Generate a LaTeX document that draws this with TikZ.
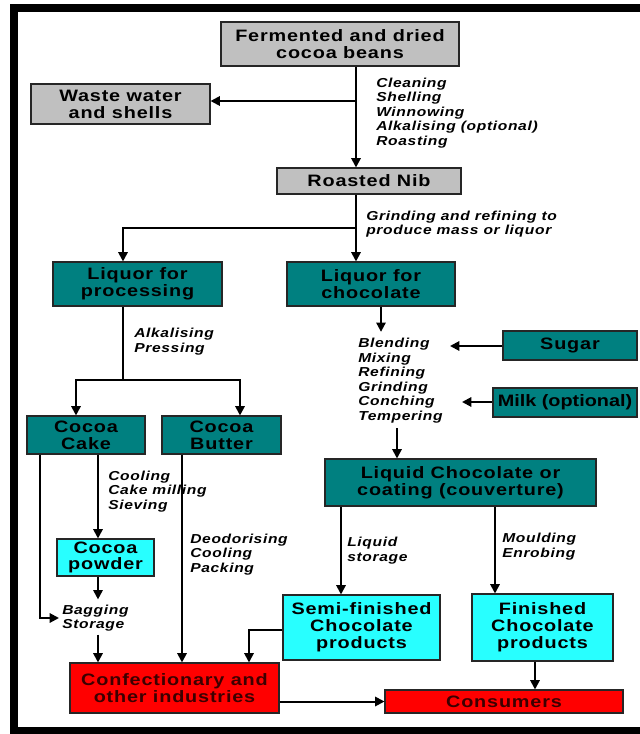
\documentclass[tikz,border=0pt]{standalone}
\usepackage{fontspec}
\setmainfont{Liberation Sans}
\newfontfamily\boxfont{Liberation Sans}[FakeStretch=1.2,LetterSpace=5]
\usetikzlibrary{arrows.meta,calc}

\definecolor{beangray}{RGB}{192,192,192}
\definecolor{liquorteal}{RGB}{0,128,128}
\definecolor{productcyan}{RGB}{40,255,255}
\definecolor{marketred}{RGB}{255,0,0}
\definecolor{darkredtext}{RGB}{60,0,0}

\tikzset{
  box/.style={draw=black!85, line width=0.8pt, inner sep=0pt, align=center,
    font=\boxfont\fontsize{12.4}{12.6}\bfseries\selectfont},
  graybox/.style={box, fill=beangray},
  tealbox/.style={box, fill=liquorteal},
  cyanbox/.style={box, fill=productcyan},
  redbox/.style={box, fill=marketred, text=darkredtext},
  lab/.style={inner sep=0pt, anchor=west, align=left,
    font=\boxfont\fontsize{9.75}{10.9}\bfseries\itshape\selectfont},
  link/.style={line width=1.5pt},
  flow/.style={link, -{Triangle[length=7pt,width=7pt]}},
  frame/.style={line width=5.5pt}
}

\begin{document}
\begin{tikzpicture}[x=0.75pt,y=-0.75pt]
\useasboundingbox (0,0) rectangle (639,734);
\fill[white] (0,0) rectangle (639,734);

% outer frame, open on the right
\draw[frame] (645,8) -- (14,8) -- (14,731) -- (645,731);

% boxes
\node[graybox, minimum width=178.5pt, minimum height=33pt] (ferm) at (340,44) {Fermented and dried\\cocoa beans};
\node[graybox, minimum width=134.25pt, minimum height=30pt] (waste) at (120.5,104) {Waste water\\and shells};
\node[graybox, minimum width=138pt, minimum height=19.5pt] (nib) at (369,181) {Roasted Nib};
\node[tealbox, minimum width=126.75pt, minimum height=33pt] (lproc) at (137.5,284) {Liquor for\\processing};
\node[tealbox, minimum width=126pt, minimum height=33pt] (lchoc) at (371,284) {Liquor for\\chocolate};
\node[tealbox, minimum width=88.5pt, minimum height=28.5pt] (cake) at (86,435) {Cocoa\\Cake};
\node[tealbox, minimum width=89.25pt, minimum height=28.5pt] (butter) at (221.5,435) {Cocoa\\Butter};
\node[cyanbox, minimum width=72.75pt, minimum height=27.75pt] (powder) at (105.5,557.5) {Cocoa\\powder};
\node[tealbox, minimum width=100.5pt, minimum height=21.75pt] (sugar) at (570,345.5) {Sugar};
\node[tealbox, minimum width=108pt, minimum height=21.75pt] (milk) at (565,402.5) {\addfontfeature{LetterSpace=0}Milk (optional)};
\node[tealbox, minimum width=203.25pt, minimum height=35.25pt] (liquid) at (460.5,482.5) {Liquid Chocolate or\\coating (couverture)};
\node[cyanbox, minimum width=117.75pt, minimum height=48.75pt] (semi) at (361.5,627.5) {Semi-finished\\Chocolate\\products};
\node[cyanbox, minimum width=105.75pt, minimum height=50.25pt] (fin) at (542.5,627.5) {Finished\\Chocolate\\products};
\node[redbox, minimum width=156.75pt, minimum height=37.5pt] (conf) at (174.5,688) {Confectionary and\\other industries};
\node[redbox, minimum width=178.5pt, minimum height=17.25pt] (cons) at (504,701.5) {Consumers};

% process step labels
\node[lab] (prep) at (376,113) {Cleaning\\Shelling\\Winnowing\\Alkalising (optional)\\Roasting};
\node[lab] (grind) at (366,224) {Grinding and refining to\\produce mass or liquor};
\node[lab] (press) at (134,341.5) {Alkalising\\Pressing};
\node[lab] (blend) at (358,380.5) {Blending\\Mixing\\Refining\\Grinding\\Conching\\Tempering};
\node[lab] (mill) at (108,491.5) {Cooling\\Cake milling\\Sieving};
\node[lab] (deo) at (190,554.5) {Deodorising\\Cooling\\Packing};
\node[lab] (bag) at (62,618) {Bagging\\Storage};
\node[lab] (store) at (347,550.5) {Liquid\\storage};
\node[lab] (mould) at (502,546.5) {Moulding\\Enrobing};

% bean preparation
\coordinate (spine) at (356,101);
\draw[flow] (ferm.south -| spine) -- (nib.north -| spine);
\draw[flow] (spine) -- (waste.east |- spine);

% nib to the two liquors
\coordinate (split) at (356,228);
\coordinate (procx) at (123,228);
\draw[flow] (nib.south -| split) -- (lchoc.north -| split);
\draw[flow] (split) -- (procx) -- (lproc.north -| procx);

% pressing into cake and butter
\coordinate (fork) at (123,380);
\coordinate (forkL) at (76,380);
\coordinate (forkR) at (240,380);
\draw[link] (lproc.south -| fork) -- (fork);
\draw[flow] (fork) -- (forkL) -- (cake.north -| forkL);
\draw[flow] (fork) -- (forkR) -- (butter.north -| forkR);

% cake branch
\coordinate (cakeL) at (40,618);
\coordinate (cakeM) at (98,0);
\draw[flow] (cake.south -| cakeL) -- (cakeL) -- ($(bag.west)+(-3,0)$);
\draw[flow] (cake.south -| cakeM) -- (powder.north -| cakeM);
\draw[flow] (powder.south -| cakeM) -- ($(bag.north -| cakeM)+(0,-5)$);
\draw[flow] ($(bag.south -| cakeM)+(0,3)$) -- (conf.north -| cakeM);

% butter branch
\coordinate (butx) at (182,0);
\draw[flow] (butter.south -| butx) -- (conf.north -| butx);

% chocolate making
\coordinate (chx) at (381,0);
\coordinate (blx) at (397,0);
\coordinate (sugtip) at (450,346);
\coordinate (milktip) at (462,402);
\draw[flow] (lchoc.south -| chx) -- ($(blend.north -| chx)+(0,-6)$);
\draw[flow] (sugar.west |- sugtip) -- (sugtip);
\draw[flow] (milk.west |- milktip) -- (milktip);
\draw[flow] ($(blend.south -| blx)+(0,5)$) -- (liquid.north -| blx);

% products
\coordinate (semix) at (341,0);
\coordinate (finx) at (495,0);
\coordinate (consx) at (535,0);
\coordinate (semiturn) at (249,630);
\draw[flow] (liquid.south -| semix) -- (semi.north -| semix);
\draw[flow] (liquid.south -| finx) -- (fin.north -| finx);
\draw[flow] (fin.south -| consx) -- (cons.north -| consx);
\draw[flow] (semi.west |- semiturn) -- (semiturn) -- (conf.north -| semiturn);
\draw[flow] (conf.east |- cons.west) -- (cons.west);
\end{tikzpicture}
\end{document}
